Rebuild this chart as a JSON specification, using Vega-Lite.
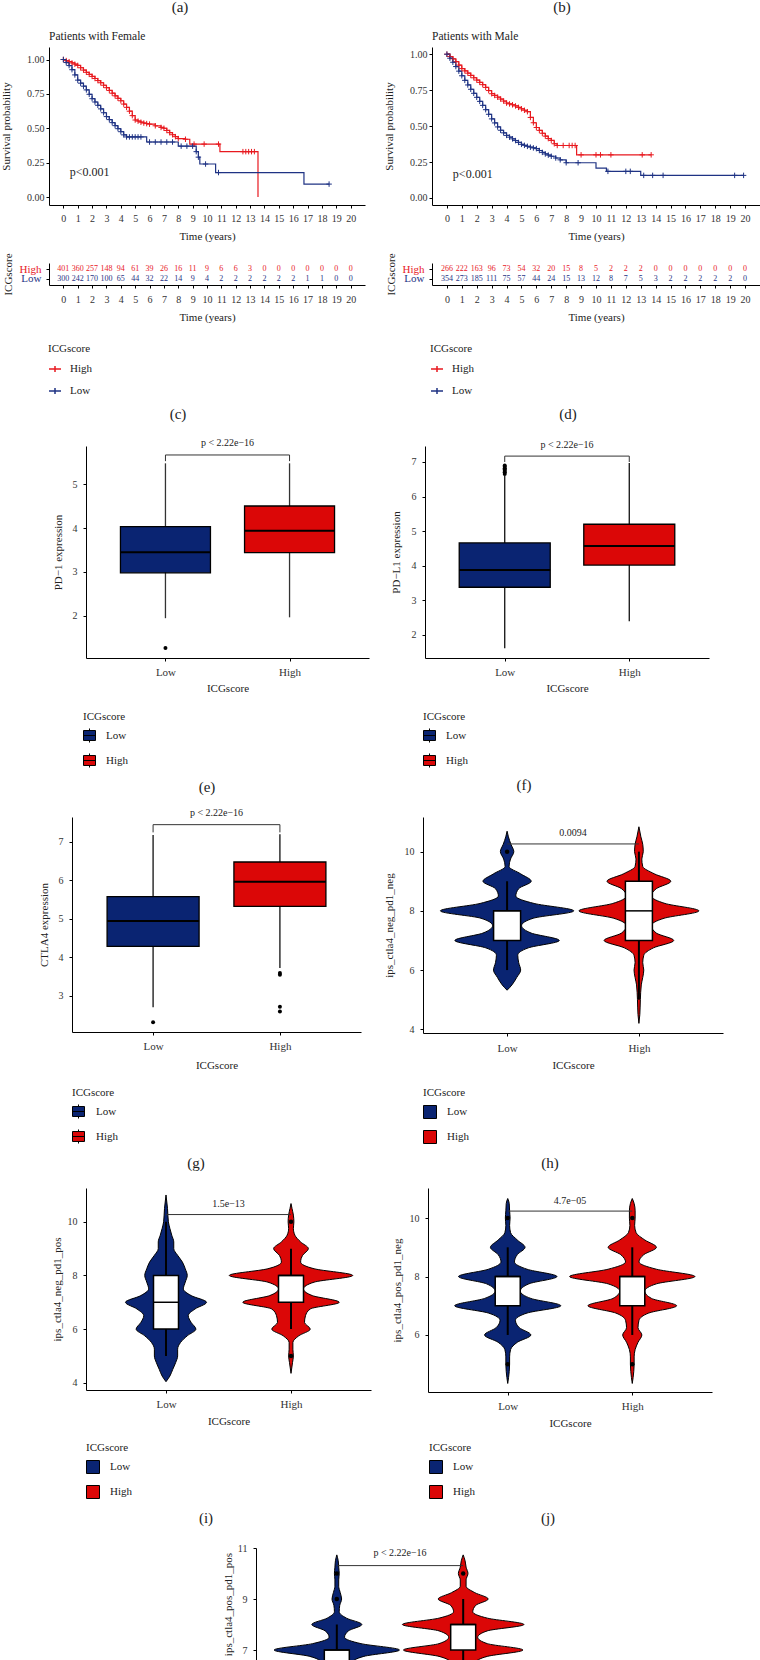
{
"$schema": "https://vega.github.io/schema/vega-lite/v6.json",
"padding": 0,
"spacing": 0,
"bounds": "flush",
"columns": 2,
"resolve": {"scale": {"color": "independent", "x": "independent", "y": "independent"}, "legend": {"color": "independent"}},
"config": {
  "view": {"stroke": null},
  "font": "Liberation Serif",
  "axis": {"domainColor": "black", "domainWidth": 1, "tickColor": "black", "tickSize": 3, "labelColor": "#333", "titleColor": "#222", "labelFont": "Liberation Serif", "titleFont": "Liberation Serif", "titleFontWeight": "normal", "labelFontSize": 10, "titleFontSize": 11, "grid": false},
  "legend": {"titleFont": "Liberation Serif", "labelFont": "Liberation Serif", "titleFontWeight": "normal", "titleFontSize": 11, "labelFontSize": 11, "titleColor": "#222", "labelColor": "#222"},
  "title": {"font": "Liberation Serif", "fontWeight": "normal", "color": "#222"}
},
"concat": [
  {"width": 1, "height": 14, "data": {"values": [{}]}, "mark": {"type": "point", "size": 0, "strokeWidth": 0, "opacity": 0}, "title": {"text": "(a)", "orient": "bottom", "anchor": "start", "align": "center", "dx": 180, "offset": -14, "fontSize": 15}},
  {"width": 1, "height": 14, "data": {"values": [{}]}, "mark": {"type": "point", "size": 0, "strokeWidth": 0, "opacity": 0}, "title": {"text": "(b)", "orient": "bottom", "anchor": "start", "align": "center", "dx": 561, "offset": -14, "fontSize": 15}},

  {"width": 1, "height": 33, "data": {"values": [{}]}, "mark": {"type": "point", "size": 0, "strokeWidth": 0, "opacity": 0}},
  {"width": 1, "height": 1, "data": {"values": [{}]}, "mark": {"type": "point", "size": 0, "strokeWidth": 0, "opacity": 0}},

  {"width": 1, "height": 158,
   "title": {"text": "Patients with Female", "anchor": "start", "frame": "group", "dx": 49, "offset": 5, "fontSize": 11.5},
   "data": {"values": [
    {"g":"High","t":0,"s":1,"c":1},{"g":"High","t":0.2,"s":0.992,"c":1},{"g":"High","t":0.4,"s":0.984,"c":1},{"g":"High","t":0.6,"s":0.975,"c":1},{"g":"High","t":0.8,"s":0.966,"c":1},{"g":"High","t":1,"s":0.957,"c":1},{"g":"High","t":1.2,"s":0.94,"c":1},{"g":"High","t":1.4,"s":0.923,"c":1},{"g":"High","t":1.6,"s":0.907,"c":1},{"g":"High","t":1.8,"s":0.892,"c":1},{"g":"High","t":2,"s":0.877,"c":1},{"g":"High","t":2.2,"s":0.862,"c":1},{"g":"High","t":2.4,"s":0.847,"c":1},{"g":"High","t":2.6,"s":0.831,"c":1},{"g":"High","t":2.8,"s":0.813,"c":1},{"g":"High","t":3,"s":0.795,"c":1},{"g":"High","t":3.2,"s":0.775,"c":1},{"g":"High","t":3.4,"s":0.755,"c":1},{"g":"High","t":3.6,"s":0.736,"c":1},{"g":"High","t":3.8,"s":0.718,"c":1},{"g":"High","t":4,"s":0.7,"c":1},{"g":"High","t":4.2,"s":0.676,"c":1},{"g":"High","t":4.4,"s":0.652,"c":1},{"g":"High","t":4.6,"s":0.624,"c":1},{"g":"High","t":4.8,"s":0.592,"c":1},{"g":"High","t":5,"s":0.56,"c":1},{"g":"High","t":5.2,"s":0.552,"c":1},{"g":"High","t":5.4,"s":0.544,"c":1},{"g":"High","t":5.6,"s":0.538,"c":1},{"g":"High","t":5.8,"s":0.534,"c":1},{"g":"High","t":6,"s":0.53,"c":1},{"g":"High","t":6.4,"s":0.518,"c":1},{"g":"High","t":6.8,"s":0.506,"c":1},{"g":"High","t":7,"s":0.5,"c":1},{"g":"High","t":7.2,"s":0.484,"c":1},{"g":"High","t":7.4,"s":0.468,"c":1},{"g":"High","t":7.6,"s":0.453,"c":1},{"g":"High","t":7.8,"s":0.439,"c":1},{"g":"High","t":8,"s":0.425,"c":1},{"g":"High","t":8.5,"s":0.42,"c":1},{"g":"High","t":8.8,"s":0.385,"c":0},{"g":"High","t":9.1,"s":0.385,"c":1},{"g":"High","t":9.8,"s":0.385,"c":1},{"g":"High","t":10.8,"s":0.385,"c":1},{"g":"High","t":10.9,"s":0.33,"c":0},{"g":"High","t":12.5,"s":0.33,"c":1},{"g":"High","t":12.7,"s":0.33,"c":1},{"g":"High","t":12.9,"s":0.33,"c":1},{"g":"High","t":13.1,"s":0.33,"c":1},{"g":"High","t":13.3,"s":0.33,"c":1},{"g":"High","t":13.55,"s":0,"c":0},
    {"g":"Low","t":0,"s":1,"c":1},{"g":"Low","t":0.2,"s":0.978,"c":1},{"g":"Low","t":0.4,"s":0.956,"c":1},{"g":"Low","t":0.6,"s":0.926,"c":1},{"g":"Low","t":0.8,"s":0.888,"c":1},{"g":"Low","t":1,"s":0.85,"c":1},{"g":"Low","t":1.2,"s":0.828,"c":1},{"g":"Low","t":1.4,"s":0.806,"c":1},{"g":"Low","t":1.6,"s":0.779,"c":1},{"g":"Low","t":1.8,"s":0.747,"c":1},{"g":"Low","t":2,"s":0.715,"c":1},{"g":"Low","t":2.2,"s":0.691,"c":1},{"g":"Low","t":2.4,"s":0.667,"c":1},{"g":"Low","t":2.6,"s":0.641,"c":1},{"g":"Low","t":2.8,"s":0.613,"c":1},{"g":"Low","t":3,"s":0.585,"c":1},{"g":"Low","t":3.2,"s":0.563,"c":1},{"g":"Low","t":3.4,"s":0.541,"c":1},{"g":"Low","t":3.6,"s":0.519,"c":1},{"g":"Low","t":3.8,"s":0.497,"c":1},{"g":"Low","t":4,"s":0.475,"c":1},{"g":"Low","t":4.2,"s":0.452,"c":1},{"g":"Low","t":4.4,"s":0.437,"c":1},{"g":"Low","t":4.6,"s":0.437,"c":1},{"g":"Low","t":4.8,"s":0.437,"c":1},{"g":"Low","t":5,"s":0.437,"c":1},{"g":"Low","t":5.2,"s":0.437,"c":1},{"g":"Low","t":5.4,"s":0.437,"c":1},{"g":"Low","t":5.8,"s":0.4,"c":0},{"g":"Low","t":6,"s":0.4,"c":1},{"g":"Low","t":6.4,"s":0.4,"c":1},{"g":"Low","t":6.8,"s":0.4,"c":1},{"g":"Low","t":7.2,"s":0.4,"c":1},{"g":"Low","t":7.6,"s":0.4,"c":1},{"g":"Low","t":8,"s":0.37,"c":0},{"g":"Low","t":8.2,"s":0.37,"c":1},{"g":"Low","t":8.6,"s":0.37,"c":1},{"g":"Low","t":9,"s":0.37,"c":1},{"g":"Low","t":9.25,"s":0.33,"c":1},{"g":"Low","t":9.4,"s":0.29,"c":1},{"g":"Low","t":9.5,"s":0.24,"c":0},{"g":"Low","t":9.9,"s":0.24,"c":1},{"g":"Low","t":10.6,"s":0.178,"c":0},{"g":"Low","t":10.8,"s":0.178,"c":1},{"g":"Low","t":16.75,"s":0.094,"c":0},{"g":"Low","t":18.5,"s":0.094,"c":1}
   ]},
   "encoding": {
    "x": {"field": "t", "type": "quantitative", "scale": {"domain": [-1, 21], "range": [49, 365], "nice": false, "zero": false}, "axis": {"values": [0,1,2,3,4,5,6,7,8,9,10,11,12,13,14,15,16,17,18,19,20], "title": "Time (years)", "labelFlush": false, "labelOverlap": false, "labelPadding": 5, "titlePadding": 7}},
    "y": {"field": "s", "type": "quantitative", "scale": {"domain": [-0.058, 1.091], "nice": false, "zero": false}, "axis": {"values": [0, 0.25, 0.5, 0.75, 1], "format": ".2f", "title": "Survival probability", "offset": -49, "labelPadding": 2, "titlePadding": 15}},
    "color": {"field": "g", "type": "nominal", "scale": {"domain": ["High", "Low"], "range": ["#E8191F", "#1F3384"]},
      "legend": {"title": "ICGscore", "orient": "none", "legendX": 48, "legendY": 296, "symbolType": "M-1,0L1,0M0,-0.5L0,0.5", "symbolSize": 144, "symbolStrokeWidth": 1.5, "labelOffset": 8, "rowPadding": 9, "titlePadding": 8}}
   },
   "layer": [
    {"mark": {"type": "line", "interpolate": "step-after", "strokeWidth": 1.2}},
    {"transform": [{"filter": "datum.c == 1"}],
     "mark": {"type": "point", "shape": "M-1,0L1,0M0,-1L0,1", "size": 30, "strokeWidth": 1, "filled": false, "opacity": 1}},
    {"data": {"values": [{"t": 0.45, "s": 0.18, "label": "p<0.001"}]},
     "mark": {"type": "text", "align": "left", "fontSize": 12, "font": "Liberation Serif"},
     "encoding": {"color": {"value": "#222"}, "text": {"field": "label", "type": "nominal"}}}
   ]},
  {"width": 1, "height": 158,
   "title": {"text": "Patients with Male", "anchor": "start", "frame": "group", "dx": 431, "offset": 5, "fontSize": 11.5},
   "data": {"values": [
    {"g":"High","t":0,"s":1,"c":1},{"g":"High","t":0.2,"s":0.984,"c":1},{"g":"High","t":0.4,"s":0.968,"c":1},{"g":"High","t":0.6,"s":0.948,"c":1},{"g":"High","t":0.8,"s":0.924,"c":1},{"g":"High","t":1,"s":0.9,"c":1},{"g":"High","t":1.2,"s":0.884,"c":1},{"g":"High","t":1.4,"s":0.868,"c":1},{"g":"High","t":1.6,"s":0.852,"c":1},{"g":"High","t":1.8,"s":0.836,"c":1},{"g":"High","t":2,"s":0.82,"c":1},{"g":"High","t":2.2,"s":0.804,"c":1},{"g":"High","t":2.4,"s":0.788,"c":1},{"g":"High","t":2.6,"s":0.769,"c":1},{"g":"High","t":2.8,"s":0.747,"c":1},{"g":"High","t":3,"s":0.725,"c":1},{"g":"High","t":3.2,"s":0.713,"c":1},{"g":"High","t":3.4,"s":0.701,"c":1},{"g":"High","t":3.6,"s":0.688,"c":1},{"g":"High","t":3.8,"s":0.674,"c":1},{"g":"High","t":4,"s":0.66,"c":1},{"g":"High","t":4.2,"s":0.654,"c":1},{"g":"High","t":4.4,"s":0.648,"c":1},{"g":"High","t":4.6,"s":0.64,"c":1},{"g":"High","t":4.8,"s":0.63,"c":1},{"g":"High","t":5,"s":0.62,"c":1},{"g":"High","t":5.2,"s":0.61,"c":1},{"g":"High","t":5.4,"s":0.6,"c":1},{"g":"High","t":5.6,"s":0.56,"c":1},{"g":"High","t":5.8,"s":0.523,"c":1},{"g":"High","t":6,"s":0.49,"c":1},{"g":"High","t":6.2,"s":0.47,"c":1},{"g":"High","t":6.4,"s":0.45,"c":1},{"g":"High","t":6.6,"s":0.43,"c":1},{"g":"High","t":6.8,"s":0.413,"c":1},{"g":"High","t":7,"s":0.4,"c":1},{"g":"High","t":7.2,"s":0.377,"c":1},{"g":"High","t":7.4,"s":0.365,"c":1},{"g":"High","t":7.8,"s":0.365,"c":1},{"g":"High","t":8.2,"s":0.365,"c":1},{"g":"High","t":8.4,"s":0.365,"c":1},{"g":"High","t":8.6,"s":0.365,"c":1},{"g":"High","t":8.7,"s":0.3,"c":0},{"g":"High","t":9,"s":0.3,"c":1},{"g":"High","t":10,"s":0.3,"c":1},{"g":"High","t":10.3,"s":0.3,"c":1},{"g":"High","t":11,"s":0.3,"c":1},{"g":"High","t":13.1,"s":0.3,"c":1},{"g":"High","t":13.7,"s":0.3,"c":1},
    {"g":"Low","t":0,"s":1,"c":1},{"g":"Low","t":0.2,"s":0.972,"c":1},{"g":"Low","t":0.4,"s":0.944,"c":1},{"g":"Low","t":0.6,"s":0.914,"c":1},{"g":"Low","t":0.8,"s":0.882,"c":1},{"g":"Low","t":1,"s":0.85,"c":1},{"g":"Low","t":1.2,"s":0.818,"c":1},{"g":"Low","t":1.4,"s":0.786,"c":1},{"g":"Low","t":1.6,"s":0.756,"c":1},{"g":"Low","t":1.8,"s":0.728,"c":1},{"g":"Low","t":2,"s":0.7,"c":1},{"g":"Low","t":2.2,"s":0.672,"c":1},{"g":"Low","t":2.4,"s":0.644,"c":1},{"g":"Low","t":2.6,"s":0.614,"c":1},{"g":"Low","t":2.8,"s":0.582,"c":1},{"g":"Low","t":3,"s":0.55,"c":1},{"g":"Low","t":3.2,"s":0.522,"c":1},{"g":"Low","t":3.4,"s":0.494,"c":1},{"g":"Low","t":3.6,"s":0.471,"c":1},{"g":"Low","t":3.8,"s":0.453,"c":1},{"g":"Low","t":4,"s":0.435,"c":1},{"g":"Low","t":4.2,"s":0.423,"c":1},{"g":"Low","t":4.4,"s":0.411,"c":1},{"g":"Low","t":4.6,"s":0.399,"c":1},{"g":"Low","t":4.8,"s":0.386,"c":1},{"g":"Low","t":5,"s":0.373,"c":1},{"g":"Low","t":5.2,"s":0.366,"c":1},{"g":"Low","t":5.4,"s":0.359,"c":1},{"g":"Low","t":5.6,"s":0.353,"c":1},{"g":"Low","t":5.8,"s":0.348,"c":1},{"g":"Low","t":6,"s":0.343,"c":1},{"g":"Low","t":6.2,"s":0.33,"c":1},{"g":"Low","t":6.4,"s":0.317,"c":1},{"g":"Low","t":6.6,"s":0.306,"c":1},{"g":"Low","t":6.8,"s":0.298,"c":1},{"g":"Low","t":7,"s":0.29,"c":1},{"g":"Low","t":7.3,"s":0.278,"c":1},{"g":"Low","t":7.6,"s":0.265,"c":1},{"g":"Low","t":8,"s":0.245,"c":1},{"g":"Low","t":8.8,"s":0.245,"c":1},{"g":"Low","t":10,"s":0.208,"c":0},{"g":"Low","t":10.7,"s":0.185,"c":0},{"g":"Low","t":10.8,"s":0.185,"c":1},{"g":"Low","t":12,"s":0.185,"c":1},{"g":"Low","t":12.3,"s":0.185,"c":1},{"g":"Low","t":13,"s":0.157,"c":0},{"g":"Low","t":13.2,"s":0.157,"c":1},{"g":"Low","t":13.8,"s":0.157,"c":1},{"g":"Low","t":14.5,"s":0.157,"c":1},{"g":"Low","t":19.3,"s":0.157,"c":1},{"g":"Low","t":19.9,"s":0.157,"c":1}
   ]},
   "encoding": {
    "x": {"field": "t", "type": "quantitative", "scale": {"domain": [-1, 21], "range": [431, 759], "nice": false, "zero": false}, "axis": {"values": [0,1,2,3,4,5,6,7,8,9,10,11,12,13,14,15,16,17,18,19,20], "title": "Time (years)", "labelFlush": false, "labelOverlap": false, "labelPadding": 5, "titlePadding": 7}},
    "y": {"field": "s", "type": "quantitative", "scale": {"domain": [-0.049, 1.05], "nice": false, "zero": false}, "axis": {"values": [0, 0.25, 0.5, 0.75, 1], "format": ".2f", "title": "Survival probability", "offset": -431, "labelPadding": 2, "titlePadding": 15}},
    "color": {"field": "g", "type": "nominal", "scale": {"domain": ["High", "Low"], "range": ["#E8191F", "#1F3384"]},
      "legend": {"title": "ICGscore", "orient": "none", "legendX": 429, "legendY": 296, "symbolType": "M-1,0L1,0M0,-0.5L0,0.5", "symbolSize": 144, "symbolStrokeWidth": 1.5, "labelOffset": 8, "rowPadding": 9, "titlePadding": 8}}
   },
   "layer": [
    {"mark": {"type": "line", "interpolate": "step-after", "strokeWidth": 1.2}},
    {"transform": [{"filter": "datum.c == 1"}],
     "mark": {"type": "point", "shape": "M-1,0L1,0M0,-1L0,1", "size": 30, "strokeWidth": 1, "filled": false, "opacity": 1}},
    {"data": {"values": [{"t": 0.4, "s": 0.17, "label": "p<0.001"}]},
     "mark": {"type": "text", "align": "left", "fontSize": 12, "font": "Liberation Serif"},
     "encoding": {"color": {"value": "#222"}, "text": {"field": "label", "type": "nominal"}}}
   ]},

  {"width": 1, "height": 58, "data": {"values": [{}]}, "mark": {"type": "point", "size": 0, "strokeWidth": 0, "opacity": 0}},
  {"width": 1, "height": 1, "data": {"values": [{}]}, "mark": {"type": "point", "size": 0, "strokeWidth": 0, "opacity": 0}},

  {"width": 1, "height": 22,
   "data": {"values": [
    {"g":"High","t":0,"n":401},{"g":"High","t":1,"n":360},{"g":"High","t":2,"n":257},{"g":"High","t":3,"n":148},{"g":"High","t":4,"n":94},{"g":"High","t":5,"n":61},{"g":"High","t":6,"n":39},{"g":"High","t":7,"n":26},{"g":"High","t":8,"n":16},{"g":"High","t":9,"n":11},{"g":"High","t":10,"n":9},{"g":"High","t":11,"n":6},{"g":"High","t":12,"n":6},{"g":"High","t":13,"n":3},{"g":"High","t":14,"n":0},{"g":"High","t":15,"n":0},{"g":"High","t":16,"n":0},{"g":"High","t":17,"n":0},{"g":"High","t":18,"n":0},{"g":"High","t":19,"n":0},{"g":"High","t":20,"n":0},
    {"g":"Low","t":0,"n":300},{"g":"Low","t":1,"n":242},{"g":"Low","t":2,"n":170},{"g":"Low","t":3,"n":100},{"g":"Low","t":4,"n":65},{"g":"Low","t":5,"n":44},{"g":"Low","t":6,"n":32},{"g":"Low","t":7,"n":22},{"g":"Low","t":8,"n":14},{"g":"Low","t":9,"n":9},{"g":"Low","t":10,"n":4},{"g":"Low","t":11,"n":2},{"g":"Low","t":12,"n":2},{"g":"Low","t":13,"n":2},{"g":"Low","t":14,"n":2},{"g":"Low","t":15,"n":2},{"g":"Low","t":16,"n":2},{"g":"Low","t":17,"n":1},{"g":"Low","t":18,"n":1},{"g":"Low","t":19,"n":0},{"g":"Low","t":20,"n":0}
   ]},
   "mark": {"type": "text", "fontSize": 8, "font": "Liberation Serif"},
   "encoding": {
    "x": {"field": "t", "type": "quantitative", "scale": {"domain": [-1, 21], "range": [49, 365], "nice": false, "zero": false}, "axis": {"values": [0,1,2,3,4,5,6,7,8,9,10,11,12,13,14,15,16,17,18,19,20], "title": "Time (years)", "labelFlush": false, "labelOverlap": false, "labelPadding": 6, "titlePadding": 7}},
    "y": {"field": "g", "type": "nominal", "scale": {"type": "point", "domain": ["High", "Low"], "padding": 0.72}, "axis": {"title": "ICGscore", "offset": -49, "labelFontSize": 11, "labelPadding": 5, "titlePadding": 6, "labelColor": {"condition": {"test": "datum.value == 'High'", "value": "#E8191F"}, "value": "#1F3384"}}},
    "text": {"field": "n", "type": "quantitative"},
    "color": {"field": "g", "type": "nominal", "scale": {"domain": ["High", "Low"], "range": ["#E8191F", "#1F3384"]}, "legend": null}
   }},
  {"width": 1, "height": 22,
   "data": {"values": [
    {"g":"High","t":0,"n":266},{"g":"High","t":1,"n":222},{"g":"High","t":2,"n":163},{"g":"High","t":3,"n":96},{"g":"High","t":4,"n":73},{"g":"High","t":5,"n":54},{"g":"High","t":6,"n":32},{"g":"High","t":7,"n":20},{"g":"High","t":8,"n":15},{"g":"High","t":9,"n":8},{"g":"High","t":10,"n":5},{"g":"High","t":11,"n":2},{"g":"High","t":12,"n":2},{"g":"High","t":13,"n":2},{"g":"High","t":14,"n":0},{"g":"High","t":15,"n":0},{"g":"High","t":16,"n":0},{"g":"High","t":17,"n":0},{"g":"High","t":18,"n":0},{"g":"High","t":19,"n":0},{"g":"High","t":20,"n":0},
    {"g":"Low","t":0,"n":354},{"g":"Low","t":1,"n":273},{"g":"Low","t":2,"n":185},{"g":"Low","t":3,"n":111},{"g":"Low","t":4,"n":75},{"g":"Low","t":5,"n":57},{"g":"Low","t":6,"n":44},{"g":"Low","t":7,"n":24},{"g":"Low","t":8,"n":15},{"g":"Low","t":9,"n":13},{"g":"Low","t":10,"n":12},{"g":"Low","t":11,"n":8},{"g":"Low","t":12,"n":7},{"g":"Low","t":13,"n":5},{"g":"Low","t":14,"n":3},{"g":"Low","t":15,"n":2},{"g":"Low","t":16,"n":2},{"g":"Low","t":17,"n":2},{"g":"Low","t":18,"n":2},{"g":"Low","t":19,"n":2},{"g":"Low","t":20,"n":0}
   ]},
   "mark": {"type": "text", "fontSize": 8, "font": "Liberation Serif"},
   "encoding": {
    "x": {"field": "t", "type": "quantitative", "scale": {"domain": [-1, 21], "range": [431, 759], "nice": false, "zero": false}, "axis": {"values": [0,1,2,3,4,5,6,7,8,9,10,11,12,13,14,15,16,17,18,19,20], "title": "Time (years)", "labelFlush": false, "labelOverlap": false, "labelPadding": 6, "titlePadding": 7}},
    "y": {"field": "g", "type": "nominal", "scale": {"type": "point", "domain": ["High", "Low"], "padding": 0.72}, "axis": {"title": "ICGscore", "offset": -431, "labelFontSize": 11, "labelPadding": 5, "titlePadding": 6, "labelColor": {"condition": {"test": "datum.value == 'High'", "value": "#E8191F"}, "value": "#1F3384"}}},
    "text": {"field": "n", "type": "quantitative"},
    "color": {"field": "g", "type": "nominal", "scale": {"domain": ["High", "Low"], "range": ["#E8191F", "#1F3384"]}, "legend": null}
   }},

  {"width": 1, "height": 122, "data": {"values": [{}]}, "mark": {"type": "point", "size": 0, "strokeWidth": 0, "opacity": 0}},
  {"width": 1, "height": 1, "data": {"values": [{}]}, "mark": {"type": "point", "size": 0, "strokeWidth": 0, "opacity": 0}},

  {"width": 1, "height": 15, "data": {"values": [{}]}, "mark": {"type": "point", "size": 0, "strokeWidth": 0, "opacity": 0}, "title": {"text": "(c)", "orient": "bottom", "anchor": "start", "align": "center", "dx": 178, "offset": -15, "fontSize": 15}},
  {"width": 1, "height": 15, "data": {"values": [{}]}, "mark": {"type": "point", "size": 0, "strokeWidth": 0, "opacity": 0}, "title": {"text": "(d)", "orient": "bottom", "anchor": "start", "align": "center", "dx": 567, "offset": -15, "fontSize": 15}},

  {"width": 1, "height": 24, "data": {"values": [{}]}, "mark": {"type": "point", "size": 0, "strokeWidth": 0, "opacity": 0}},
  {"width": 1, "height": 1, "data": {"values": [{}]}, "mark": {"type": "point", "size": 0, "strokeWidth": 0, "opacity": 0}},

  {"width": 1, "height": 212,
   "data": {"values": [{"g":"Low","pos":1,"q1":2.98,"med":3.45,"q3":4.03,"lo":1.95,"hi":5.47},{"g":"High","pos":2,"q1":3.44,"med":3.94,"q3":4.5,"lo":1.97,"hi":5.47}]},
   "layer": [
    {"mark": {"type": "rule", "color": "#333", "strokeWidth": 1.3},
     "encoding": {
      "x": {"field": "pos", "type": "quantitative", "scale": {"domain": [0.4, 2.6], "range": [86, 369], "nice": false, "zero": false}, "axis": {"values": [1, 2], "labelExpr": "datum.value == 1 ? 'Low' : 'High'", "title": "ICGscore", "labelFontSize": 11, "labelPadding": 5, "titlePadding": 5, "labelFlush": false}},
      "y": {"field": "lo", "type": "quantitative", "scale": {"domain": [1.045, 5.864], "nice": false, "zero": false}, "axis": {"values": [2, 3, 4, 5], "title": "PD−1 expression", "offset": -86, "labelPadding": 6, "titlePadding": 9}},
      "y2": {"field": "hi"}}},
    {"mark": {"type": "bar", "size": 90, "stroke": "black", "strokeWidth": 1.3, "opacity": 1},
     "encoding": {
      "x": {"field": "pos", "type": "quantitative", "scale": {"domain": [0.4, 2.6], "range": [86, 369], "nice": false, "zero": false}},
      "y": {"field": "q1", "type": "quantitative", "scale": {"domain": [1.045, 5.864], "nice": false, "zero": false}},
      "y2": {"field": "q3"},
      "color": {"field": "g", "type": "nominal", "scale": {"domain": ["Low", "High"], "range": ["#0A2472", "#DB0707"]},
        "legend": {"title": "ICGscore", "orient": "none", "legendX": 83, "legendY": 265, "symbolType": "M-1,-0.83H1V0.83H-1Z M-1,0H1 M0,-0.83V-1.17 M0,0.83V1.17", "symbolSize": 144, "symbolStrokeColor": "black", "symbolStrokeWidth": 1, "symbolOpacity": 1, "labelOffset": 10, "rowPadding": 6, "titlePadding": 7}}}},
    {"mark": {"type": "tick", "orient": "horizontal", "size": 90, "thickness": 2, "color": "black", "opacity": 1},
     "encoding": {
      "x": {"field": "pos", "type": "quantitative", "scale": {"domain": [0.4, 2.6], "range": [86, 369], "nice": false, "zero": false}},
      "y": {"field": "med", "type": "quantitative", "scale": {"domain": [1.045, 5.864], "nice": false, "zero": false}}}},
    {"data": {"values": [{"pos": 1, "v": 1.27}]},
     "mark": {"type": "circle", "size": 16, "color": "black", "opacity": 1},
     "encoding": {
      "x": {"field": "pos", "type": "quantitative", "scale": {"domain": [0.4, 2.6], "range": [86, 369], "nice": false, "zero": false}},
      "y": {"field": "v", "type": "quantitative", "scale": {"domain": [1.045, 5.864], "nice": false, "zero": false}}}},
    {"data": {"values": [{"x1": 1, "x2": 2, "xm": 1.5, "y": 5.66, "yl": 5.52, "ty": 5.93, "label": "p < 2.22e−16"}]},
     "layer": [
      {"mark": {"type": "rule", "color": "#333", "strokeWidth": 1},
       "encoding": {"x": {"field": "x1", "type": "quantitative", "scale": {"domain": [0.4, 2.6], "range": [86, 369], "nice": false, "zero": false}}, "x2": {"field": "x2"}, "y": {"field": "y", "type": "quantitative", "scale": {"domain": [1.045, 5.864], "nice": false, "zero": false}}}},
      {"mark": {"type": "rule", "color": "#333", "strokeWidth": 1},
       "encoding": {"x": {"field": "x1", "type": "quantitative", "scale": {"domain": [0.4, 2.6], "range": [86, 369], "nice": false, "zero": false}}, "y": {"field": "y", "type": "quantitative", "scale": {"domain": [1.045, 5.864], "nice": false, "zero": false}}, "y2": {"field": "yl"}}},
      {"mark": {"type": "rule", "color": "#333", "strokeWidth": 1},
       "encoding": {"x": {"field": "x2", "type": "quantitative", "scale": {"domain": [0.4, 2.6], "range": [86, 369], "nice": false, "zero": false}}, "y": {"field": "y", "type": "quantitative", "scale": {"domain": [1.045, 5.864], "nice": false, "zero": false}}, "y2": {"field": "yl"}}},
      {"mark": {"type": "text", "fontSize": 10, "font": "Liberation Serif", "color": "#222"},
       "encoding": {"x": {"field": "xm", "type": "quantitative", "scale": {"domain": [0.4, 2.6], "range": [86, 369], "nice": false, "zero": false}}, "y": {"field": "ty", "type": "quantitative", "scale": {"domain": [1.045, 5.864], "nice": false, "zero": false}}, "text": {"field": "label", "type": "nominal"}}}
     ]}
   ]},
  {"width": 1, "height": 212,
   "data": {"values": [{"g":"Low","pos":1,"q1":3.38,"med":3.88,"q3":4.66,"lo":1.62,"hi":6.6},{"g":"High","pos":2,"q1":4.02,"med":4.57,"q3":5.2,"lo":2.4,"hi":6.97}]},
   "layer": [
    {"mark": {"type": "rule", "color": "#111", "strokeWidth": 1.3},
     "encoding": {
      "x": {"field": "pos", "type": "quantitative", "scale": {"domain": [0.4, 2.6], "range": [424, 708], "nice": false, "zero": false}, "axis": {"values": [1, 2], "labelExpr": "datum.value == 1 ? 'Low' : 'High'", "title": "ICGscore", "labelFontSize": 11, "labelPadding": 5, "titlePadding": 5, "labelFlush": false}},
      "y": {"field": "lo", "type": "quantitative", "scale": {"domain": [1.335, 7.462], "nice": false, "zero": false}, "axis": {"values": [2, 3, 4, 5, 6, 7], "title": "PD−L1 expression", "offset": -424, "labelPadding": 6, "titlePadding": 10}},
      "y2": {"field": "hi"}}},
    {"mark": {"type": "bar", "size": 91, "stroke": "black", "strokeWidth": 1.3, "opacity": 1},
     "encoding": {
      "x": {"field": "pos", "type": "quantitative", "scale": {"domain": [0.4, 2.6], "range": [424, 708], "nice": false, "zero": false}},
      "y": {"field": "q1", "type": "quantitative", "scale": {"domain": [1.335, 7.462], "nice": false, "zero": false}},
      "y2": {"field": "q3"},
      "color": {"field": "g", "type": "nominal", "scale": {"domain": ["Low", "High"], "range": ["#0A2472", "#DB0707"]},
        "legend": {"title": "ICGscore", "orient": "none", "legendX": 422, "legendY": 265, "symbolType": "M-1,-0.83H1V0.83H-1Z M-1,0H1 M0,-0.83V-1.17 M0,0.83V1.17", "symbolSize": 144, "symbolStrokeColor": "black", "symbolStrokeWidth": 1, "symbolOpacity": 1, "labelOffset": 10, "rowPadding": 6, "titlePadding": 7}}}},
    {"mark": {"type": "tick", "orient": "horizontal", "size": 91, "thickness": 2, "color": "black", "opacity": 1},
     "encoding": {
      "x": {"field": "pos", "type": "quantitative", "scale": {"domain": [0.4, 2.6], "range": [424, 708], "nice": false, "zero": false}},
      "y": {"field": "med", "type": "quantitative", "scale": {"domain": [1.335, 7.462], "nice": false, "zero": false}}}},
    {"data": {"values": [{"pos": 1, "v": 6.65}, {"pos": 1, "v": 6.7}, {"pos": 1, "v": 6.74}, {"pos": 1, "v": 6.78}, {"pos": 1, "v": 6.82}, {"pos": 1, "v": 6.86}, {"pos": 1, "v": 6.9}]},
     "mark": {"type": "circle", "size": 16, "color": "black", "opacity": 1},
     "encoding": {
      "x": {"field": "pos", "type": "quantitative", "scale": {"domain": [0.4, 2.6], "range": [424, 708], "nice": false, "zero": false}},
      "y": {"field": "v", "type": "quantitative", "scale": {"domain": [1.335, 7.462], "nice": false, "zero": false}}}},
    {"data": {"values": [{"x1": 1, "x2": 2, "xm": 1.5, "y": 7.17, "yl": 7.0, "ty": 7.49, "label": "p < 2.22e−16"}]},
     "layer": [
      {"mark": {"type": "rule", "color": "#333", "strokeWidth": 1},
       "encoding": {"x": {"field": "x1", "type": "quantitative", "scale": {"domain": [0.4, 2.6], "range": [424, 708], "nice": false, "zero": false}}, "x2": {"field": "x2"}, "y": {"field": "y", "type": "quantitative", "scale": {"domain": [1.335, 7.462], "nice": false, "zero": false}}}},
      {"mark": {"type": "rule", "color": "#333", "strokeWidth": 1},
       "encoding": {"x": {"field": "x1", "type": "quantitative", "scale": {"domain": [0.4, 2.6], "range": [424, 708], "nice": false, "zero": false}}, "y": {"field": "y", "type": "quantitative", "scale": {"domain": [1.335, 7.462], "nice": false, "zero": false}}, "y2": {"field": "yl"}}},
      {"mark": {"type": "rule", "color": "#333", "strokeWidth": 1},
       "encoding": {"x": {"field": "x2", "type": "quantitative", "scale": {"domain": [0.4, 2.6], "range": [424, 708], "nice": false, "zero": false}}, "y": {"field": "y", "type": "quantitative", "scale": {"domain": [1.335, 7.462], "nice": false, "zero": false}}, "y2": {"field": "yl"}}},
      {"mark": {"type": "text", "fontSize": 10, "font": "Liberation Serif", "color": "#222"},
       "encoding": {"x": {"field": "xm", "type": "quantitative", "scale": {"domain": [0.4, 2.6], "range": [424, 708], "nice": false, "zero": false}}, "y": {"field": "ty", "type": "quantitative", "scale": {"domain": [1.335, 7.462], "nice": false, "zero": false}}, "text": {"field": "label", "type": "nominal"}}}
     ]}
   ]},

  {"width": 1, "height": 122, "data": {"values": [{}]}, "mark": {"type": "point", "size": 0, "strokeWidth": 0, "opacity": 0}},
  {"width": 1, "height": 1, "data": {"values": [{}]}, "mark": {"type": "point", "size": 0, "strokeWidth": 0, "opacity": 0}},

  {"width": 1, "height": 15, "data": {"values": [{}]}, "mark": {"type": "point", "size": 0, "strokeWidth": 0, "opacity": 0}, "title": {"text": "(e)", "orient": "bottom", "anchor": "start", "align": "center", "dx": 207, "offset": -15, "fontSize": 15}},
  {"width": 1, "height": 15, "data": {"values": [{}]}, "mark": {"type": "point", "size": 0, "strokeWidth": 0, "opacity": 0}, "title": {"text": "(f)", "orient": "bottom", "anchor": "start", "align": "center", "dx": 523, "offset": -17, "fontSize": 15}},

  {"width": 1, "height": 22, "data": {"values": [{}]}, "mark": {"type": "point", "size": 0, "strokeWidth": 0, "opacity": 0}},
  {"width": 1, "height": 1, "data": {"values": [{}]}, "mark": {"type": "point", "size": 0, "strokeWidth": 0, "opacity": 0}},

  {"width": 1, "height": 215,
   "data": {"values": [{"g":"Low","pos":1,"q1":4.29,"med":4.95,"q3":5.58,"lo":2.71,"hi":7.18},{"g":"High","pos":2,"q1":5.33,"med":5.97,"q3":6.48,"lo":3.73,"hi":7.2}]},
   "layer": [
    {"mark": {"type": "rule", "color": "#111", "strokeWidth": 1.3},
     "encoding": {
      "x": {"field": "pos", "type": "quantitative", "scale": {"domain": [0.4, 2.6], "range": [72, 361], "nice": false, "zero": false}, "axis": {"values": [1, 2], "labelExpr": "datum.value == 1 ? 'Low' : 'High'", "title": "ICGscore", "labelFontSize": 11, "labelPadding": 5, "titlePadding": 8, "labelFlush": false}},
      "y": {"field": "lo", "type": "quantitative", "scale": {"domain": [2.065, 7.649], "nice": false, "zero": false}, "axis": {"values": [3, 4, 5, 6, 7], "title": "CTLA4 expression", "offset": -72, "labelPadding": 6, "titlePadding": 9}},
      "y2": {"field": "hi"}}},
    {"mark": {"type": "bar", "size": 92, "stroke": "black", "strokeWidth": 1.3, "opacity": 1},
     "encoding": {
      "x": {"field": "pos", "type": "quantitative", "scale": {"domain": [0.4, 2.6], "range": [72, 361], "nice": false, "zero": false}},
      "y": {"field": "q1", "type": "quantitative", "scale": {"domain": [2.065, 7.649], "nice": false, "zero": false}},
      "y2": {"field": "q3"},
      "color": {"field": "g", "type": "nominal", "scale": {"domain": ["Low", "High"], "range": ["#0A2472", "#DB0707"]},
        "legend": {"title": "ICGscore", "orient": "none", "legendX": 72, "legendY": 270, "symbolType": "M-1,-0.83H1V0.83H-1Z M-1,0H1 M0,-0.83V-1.17 M0,0.83V1.17", "symbolSize": 144, "symbolStrokeColor": "black", "symbolStrokeWidth": 1, "symbolOpacity": 1, "labelOffset": 11, "rowPadding": 6, "titlePadding": 7}}}},
    {"mark": {"type": "tick", "orient": "horizontal", "size": 92, "thickness": 2, "color": "black", "opacity": 1},
     "encoding": {
      "x": {"field": "pos", "type": "quantitative", "scale": {"domain": [0.4, 2.6], "range": [72, 361], "nice": false, "zero": false}},
      "y": {"field": "med", "type": "quantitative", "scale": {"domain": [2.065, 7.649], "nice": false, "zero": false}}}},
    {"data": {"values": [{"pos": 1, "v": 2.32}, {"pos": 2, "v": 3.55}, {"pos": 2, "v": 3.6}, {"pos": 2, "v": 2.72}, {"pos": 2, "v": 2.6}]},
     "mark": {"type": "circle", "size": 16, "color": "black", "opacity": 1},
     "encoding": {
      "x": {"field": "pos", "type": "quantitative", "scale": {"domain": [0.4, 2.6], "range": [72, 361], "nice": false, "zero": false}},
      "y": {"field": "v", "type": "quantitative", "scale": {"domain": [2.065, 7.649], "nice": false, "zero": false}}}},
    {"data": {"values": [{"x1": 1, "x2": 2, "xm": 1.5, "y": 7.45, "yl": 7.25, "ty": 7.76, "label": "p < 2.22e−16"}]},
     "layer": [
      {"mark": {"type": "rule", "color": "#333", "strokeWidth": 1},
       "encoding": {"x": {"field": "x1", "type": "quantitative", "scale": {"domain": [0.4, 2.6], "range": [72, 361], "nice": false, "zero": false}}, "x2": {"field": "x2"}, "y": {"field": "y", "type": "quantitative", "scale": {"domain": [2.065, 7.649], "nice": false, "zero": false}}}},
      {"mark": {"type": "rule", "color": "#333", "strokeWidth": 1},
       "encoding": {"x": {"field": "x1", "type": "quantitative", "scale": {"domain": [0.4, 2.6], "range": [72, 361], "nice": false, "zero": false}}, "y": {"field": "y", "type": "quantitative", "scale": {"domain": [2.065, 7.649], "nice": false, "zero": false}}, "y2": {"field": "yl"}}},
      {"mark": {"type": "rule", "color": "#333", "strokeWidth": 1},
       "encoding": {"x": {"field": "x2", "type": "quantitative", "scale": {"domain": [0.4, 2.6], "range": [72, 361], "nice": false, "zero": false}}, "y": {"field": "y", "type": "quantitative", "scale": {"domain": [2.065, 7.649], "nice": false, "zero": false}}, "y2": {"field": "yl"}}},
      {"mark": {"type": "text", "fontSize": 10, "font": "Liberation Serif", "color": "#222"},
       "encoding": {"x": {"field": "xm", "type": "quantitative", "scale": {"domain": [0.4, 2.6], "range": [72, 361], "nice": false, "zero": false}}, "y": {"field": "ty", "type": "quantitative", "scale": {"domain": [2.065, 7.649], "nice": false, "zero": false}}, "text": {"field": "label", "type": "nominal"}}}
     ]}
   ]},
  {"width": 1, "height": 216,
   "layer": [
    {"data": {"values": [
      {"g":"Low","v":10.69,"left":1,"right":1},{"g":"Low","v":10.5,"left":0.99,"right":1.01},{"g":"Low","v":10.25,"left":0.971,"right":1.029},{"g":"Low","v":10,"left":0.949,"right":1.051},{"g":"Low","v":9.75,"left":0.974,"right":1.026},{"g":"Low","v":9.5,"left":0.985,"right":1.015},{"g":"Low","v":9.25,"left":0.897,"right":1.103},{"g":"Low","v":9,"left":0.817,"right":1.183},{"g":"Low","v":8.75,"left":0.912,"right":1.088},{"g":"Low","v":8.5,"left":0.934,"right":1.066},{"g":"Low","v":8.25,"left":0.795,"right":1.205},{"g":"Low","v":8,"left":0.494,"right":1.506},{"g":"Low","v":7.75,"left":0.802,"right":1.198},{"g":"Low","v":7.5,"left":0.89,"right":1.11},{"g":"Low","v":7.25,"left":0.817,"right":1.183},{"g":"Low","v":7,"left":0.604,"right":1.396},{"g":"Low","v":6.75,"left":0.839,"right":1.161},{"g":"Low","v":6.5,"left":0.919,"right":1.081},{"g":"Low","v":6.25,"left":0.912,"right":1.088},{"g":"Low","v":6,"left":0.897,"right":1.103},{"g":"Low","v":5.75,"left":0.927,"right":1.073},{"g":"Low","v":5.5,"left":0.963,"right":1.037},{"g":"Low","v":5.32,"left":1,"right":1},
      {"g":"High","v":10.84,"left":2,"right":2},{"g":"High","v":10.5,"left":1.985,"right":2.015},{"g":"High","v":10.25,"left":1.971,"right":2.029},{"g":"High","v":10,"left":1.967,"right":2.033},{"g":"High","v":9.75,"left":1.978,"right":2.022},{"g":"High","v":9.5,"left":1.971,"right":2.029},{"g":"High","v":9.25,"left":1.883,"right":2.117},{"g":"High","v":9,"left":1.758,"right":2.242},{"g":"High","v":8.75,"left":1.868,"right":2.132},{"g":"High","v":8.5,"left":1.905,"right":2.095},{"g":"High","v":8.25,"left":1.802,"right":2.198},{"g":"High","v":8,"left":1.545,"right":2.455},{"g":"High","v":7.75,"left":1.809,"right":2.191},{"g":"High","v":7.5,"left":1.905,"right":2.095},{"g":"High","v":7.25,"left":1.868,"right":2.132},{"g":"High","v":7,"left":1.736,"right":2.264},{"g":"High","v":6.75,"left":1.89,"right":2.11},{"g":"High","v":6.5,"left":1.963,"right":2.037},{"g":"High","v":6.25,"left":1.971,"right":2.029},{"g":"High","v":6,"left":1.963,"right":2.037},{"g":"High","v":5.75,"left":1.971,"right":2.029},{"g":"High","v":5.5,"left":1.982,"right":2.018},{"g":"High","v":5,"left":1.989,"right":2.011},{"g":"High","v":4.5,"left":1.993,"right":2.007},{"g":"High","v":4.2,"left":2,"right":2}
     ]},
     "mark": {"type": "area", "orient": "horizontal", "interpolate": "monotone", "stroke": "black", "strokeWidth": 1, "opacity": 1},
     "encoding": {
      "y": {"field": "v", "type": "quantitative", "scale": {"domain": [3.875, 11.17], "nice": false, "zero": false}, "axis": {"values": [4, 6, 8, 10], "title": "ips_ctla4_neg_pd1_neg", "offset": -422, "labelPadding": 6, "titlePadding": 10}},
      "x": {"field": "left", "type": "quantitative", "stack": null, "scale": {"domain": [0.4, 2.6], "range": [422, 722], "nice": false, "zero": false}, "axis": {"values": [1, 2], "labelExpr": "datum.value == 1 ? 'Low' : 'High'", "title": "ICGscore", "labelFontSize": 11, "labelPadding": 6, "titlePadding": 6, "labelFlush": false}},
      "x2": {"field": "right"},
      "color": {"field": "g", "type": "nominal", "scale": {"domain": ["Low", "High"], "range": ["#0A2472", "#DB0707"]},
        "legend": {"title": "ICGscore", "orient": "none", "legendX": 422, "legendY": 270, "symbolType": "square", "symbolSize": 169, "symbolStrokeColor": "black", "symbolStrokeWidth": 1, "symbolOpacity": 1, "labelOffset": 10, "rowPadding": 7, "titlePadding": 7}}
     }},
    {"data": {"values": [{"g":"Low","pos":1,"q1":7,"med":8,"q3":8,"lo":6,"hi":9},{"g":"High","pos":2,"q1":7,"med":8,"q3":9,"lo":5,"hi":10}]},
     "layer": [
      {"mark": {"type": "rule", "color": "black", "strokeWidth": 2},
       "encoding": {"x": {"field": "pos", "type": "quantitative", "scale": {"domain": [0.4, 2.6], "range": [422, 722], "nice": false, "zero": false}}, "y": {"field": "lo", "type": "quantitative", "scale": {"domain": [3.875, 11.17], "nice": false, "zero": false}}, "y2": {"field": "hi"}}},
      {"mark": {"type": "bar", "size": 27, "color": "white", "stroke": "black", "strokeWidth": 1.5, "opacity": 1},
       "encoding": {"x": {"field": "pos", "type": "quantitative", "scale": {"domain": [0.4, 2.6], "range": [422, 722], "nice": false, "zero": false}}, "y": {"field": "q1", "type": "quantitative", "scale": {"domain": [3.875, 11.17], "nice": false, "zero": false}}, "y2": {"field": "q3"}}},
      {"mark": {"type": "tick", "orient": "horizontal", "size": 27, "thickness": 1.5, "color": "black", "opacity": 1},
       "encoding": {"x": {"field": "pos", "type": "quantitative", "scale": {"domain": [0.4, 2.6], "range": [422, 722], "nice": false, "zero": false}}, "y": {"field": "med", "type": "quantitative", "scale": {"domain": [3.875, 11.17], "nice": false, "zero": false}}}}
     ]},
    {"data": {"values": [{"pos": 1, "v": 10}]},
     "mark": {"type": "circle", "size": 20, "color": "black", "opacity": 1},
     "encoding": {"x": {"field": "pos", "type": "quantitative", "scale": {"domain": [0.4, 2.6], "range": [422, 722], "nice": false, "zero": false}}, "y": {"field": "v", "type": "quantitative", "scale": {"domain": [3.875, 11.17], "nice": false, "zero": false}}}},
    {"data": {"values": [{"x1": 1, "x2": 2, "xm": 1.5, "y": 10.26, "ty": 10.63, "label": "0.0094"}]},
     "layer": [
      {"mark": {"type": "rule", "color": "#333", "strokeWidth": 1},
       "encoding": {"x": {"field": "x1", "type": "quantitative", "scale": {"domain": [0.4, 2.6], "range": [422, 722], "nice": false, "zero": false}}, "x2": {"field": "x2"}, "y": {"field": "y", "type": "quantitative", "scale": {"domain": [3.875, 11.17], "nice": false, "zero": false}}}},
      {"mark": {"type": "text", "fontSize": 10, "font": "Liberation Serif", "color": "#222"},
       "encoding": {"x": {"field": "xm", "type": "quantitative", "scale": {"domain": [0.4, 2.6], "range": [422, 722], "nice": false, "zero": false}}, "y": {"field": "ty", "type": "quantitative", "scale": {"domain": [3.875, 11.17], "nice": false, "zero": false}}, "text": {"field": "label", "type": "nominal"}}}
     ]}
   ]},

  {"width": 1, "height": 123, "data": {"values": [{}]}, "mark": {"type": "point", "size": 0, "strokeWidth": 0, "opacity": 0}},
  {"width": 1, "height": 1, "data": {"values": [{}]}, "mark": {"type": "point", "size": 0, "strokeWidth": 0, "opacity": 0}},

  {"width": 1, "height": 15, "data": {"values": [{}]}, "mark": {"type": "point", "size": 0, "strokeWidth": 0, "opacity": 0}, "title": {"text": "(g)", "orient": "bottom", "anchor": "start", "align": "center", "dx": 196, "offset": -15, "fontSize": 15}},
  {"width": 1, "height": 15, "data": {"values": [{}]}, "mark": {"type": "point", "size": 0, "strokeWidth": 0, "opacity": 0}, "title": {"text": "(h)", "orient": "bottom", "anchor": "start", "align": "center", "dx": 549, "offset": -15, "fontSize": 15}},

  {"width": 1, "height": 17, "data": {"values": [{}]}, "mark": {"type": "point", "size": 0, "strokeWidth": 0, "opacity": 0}},
  {"width": 1, "height": 1, "data": {"values": [{}]}, "mark": {"type": "point", "size": 0, "strokeWidth": 0, "opacity": 0}},

  {"width": 1, "height": 202,
   "layer": [
    {"data": {"values": [
      {"g":"Low","v":11,"left":1,"right":1},{"g":"Low","v":10.5,"left":0.988,"right":1.012},{"g":"Low","v":10,"left":0.981,"right":1.019},{"g":"Low","v":9.75,"left":0.969,"right":1.031},{"g":"Low","v":9.5,"left":0.954,"right":1.046},{"g":"Low","v":9.25,"left":0.938,"right":1.062},{"g":"Low","v":9,"left":0.938,"right":1.062},{"g":"Low","v":8.75,"left":0.907,"right":1.093},{"g":"Low","v":8.5,"left":0.869,"right":1.131},{"g":"Low","v":8.25,"left":0.846,"right":1.154},{"g":"Low","v":8,"left":0.83,"right":1.17},{"g":"Low","v":7.75,"left":0.846,"right":1.154},{"g":"Low","v":7.5,"left":0.861,"right":1.139},{"g":"Low","v":7.25,"left":0.799,"right":1.201},{"g":"Low","v":7,"left":0.676,"right":1.324},{"g":"Low","v":6.75,"left":0.768,"right":1.232},{"g":"Low","v":6.5,"left":0.822,"right":1.178},{"g":"Low","v":6.25,"left":0.799,"right":1.201},{"g":"Low","v":6,"left":0.761,"right":1.239},{"g":"Low","v":5.75,"left":0.83,"right":1.17},{"g":"Low","v":5.5,"left":0.884,"right":1.116},{"g":"Low","v":5.25,"left":0.907,"right":1.093},{"g":"Low","v":5,"left":0.907,"right":1.093},{"g":"Low","v":4.75,"left":0.923,"right":1.077},{"g":"Low","v":4.5,"left":0.946,"right":1.054},{"g":"Low","v":4.25,"left":0.969,"right":1.031},{"g":"Low","v":4.04,"left":1,"right":1},
      {"g":"High","v":10.68,"left":2,"right":2},{"g":"High","v":10.5,"left":1.992,"right":2.008},{"g":"High","v":10.25,"left":1.981,"right":2.019},{"g":"High","v":10,"left":1.977,"right":2.023},{"g":"High","v":9.75,"left":1.981,"right":2.019},{"g":"High","v":9.5,"left":1.969,"right":2.031},{"g":"High","v":9.25,"left":1.923,"right":2.077},{"g":"High","v":9,"left":1.861,"right":2.139},{"g":"High","v":8.75,"left":1.907,"right":2.093},{"g":"High","v":8.5,"left":1.923,"right":2.077},{"g":"High","v":8.25,"left":1.815,"right":2.185},{"g":"High","v":8,"left":1.506,"right":2.494},{"g":"High","v":7.75,"left":1.815,"right":2.185},{"g":"High","v":7.5,"left":1.9,"right":2.1},{"g":"High","v":7.25,"left":1.83,"right":2.17},{"g":"High","v":7,"left":1.614,"right":2.386},{"g":"High","v":6.75,"left":1.846,"right":2.154},{"g":"High","v":6.5,"left":1.884,"right":2.116},{"g":"High","v":6.25,"left":1.892,"right":2.108},{"g":"High","v":6,"left":1.846,"right":2.154},{"g":"High","v":5.75,"left":1.938,"right":2.062},{"g":"High","v":5.5,"left":1.985,"right":2.015},{"g":"High","v":5.25,"left":1.985,"right":2.015},{"g":"High","v":5,"left":1.981,"right":2.019},{"g":"High","v":4.75,"left":1.988,"right":2.012},{"g":"High","v":4.35,"left":2,"right":2}
     ]},
     "mark": {"type": "area", "orient": "horizontal", "interpolate": "monotone", "stroke": "black", "strokeWidth": 1, "opacity": 1},
     "encoding": {
      "y": {"field": "v", "type": "quantitative", "scale": {"domain": [3.73, 11.26], "nice": false, "zero": false}, "axis": {"values": [4, 6, 8, 10], "title": "ips_ctla4_neg_pd1_pos", "offset": -86, "labelPadding": 6, "titlePadding": 5}},
      "x": {"field": "left", "type": "quantitative", "stack": null, "scale": {"domain": [0.4, 2.6], "range": [86, 371], "nice": false, "zero": false}, "axis": {"values": [1, 2], "labelExpr": "datum.value == 1 ? 'Low' : 'High'", "title": "ICGscore", "labelFontSize": 11, "labelPadding": 5, "titlePadding": 6, "labelFlush": false}},
      "x2": {"field": "right"},
      "color": {"field": "g", "type": "nominal", "scale": {"domain": ["Low", "High"], "range": ["#0A2472", "#DB0707"]},
        "legend": {"title": "ICGscore", "orient": "none", "legendX": 86, "legendY": 254, "symbolType": "square", "symbolSize": 169, "symbolStrokeColor": "black", "symbolStrokeWidth": 1, "symbolOpacity": 1, "labelOffset": 10, "rowPadding": 7, "titlePadding": 7}}
     }},
    {"data": {"values": [{"g":"Low","pos":1,"q1":6,"med":7,"q3":8,"lo":5,"hi":10},{"g":"High","pos":2,"q1":7,"med":8,"q3":8,"lo":6,"hi":9}]},
     "layer": [
      {"mark": {"type": "rule", "color": "black", "strokeWidth": 2},
       "encoding": {"x": {"field": "pos", "type": "quantitative", "scale": {"domain": [0.4, 2.6], "range": [86, 371], "nice": false, "zero": false}}, "y": {"field": "lo", "type": "quantitative", "scale": {"domain": [3.73, 11.26], "nice": false, "zero": false}}, "y2": {"field": "hi"}}},
      {"mark": {"type": "bar", "size": 25, "color": "white", "stroke": "black", "strokeWidth": 1.5, "opacity": 1},
       "encoding": {"x": {"field": "pos", "type": "quantitative", "scale": {"domain": [0.4, 2.6], "range": [86, 371], "nice": false, "zero": false}}, "y": {"field": "q1", "type": "quantitative", "scale": {"domain": [3.73, 11.26], "nice": false, "zero": false}}, "y2": {"field": "q3"}}},
      {"mark": {"type": "tick", "orient": "horizontal", "size": 25, "thickness": 1.5, "color": "black", "opacity": 1},
       "encoding": {"x": {"field": "pos", "type": "quantitative", "scale": {"domain": [0.4, 2.6], "range": [86, 371], "nice": false, "zero": false}}, "y": {"field": "med", "type": "quantitative", "scale": {"domain": [3.73, 11.26], "nice": false, "zero": false}}}}
     ]},
    {"data": {"values": [{"pos": 2, "v": 10}, {"pos": 2, "v": 5}]},
     "mark": {"type": "circle", "size": 20, "color": "black", "opacity": 1},
     "encoding": {"x": {"field": "pos", "type": "quantitative", "scale": {"domain": [0.4, 2.6], "range": [86, 371], "nice": false, "zero": false}}, "y": {"field": "v", "type": "quantitative", "scale": {"domain": [3.73, 11.26], "nice": false, "zero": false}}}},
    {"data": {"values": [{"x1": 1, "x2": 2, "xm": 1.5, "y": 10.27, "ty": 10.65, "label": "1.5e−13"}]},
     "layer": [
      {"mark": {"type": "rule", "color": "#333", "strokeWidth": 1},
       "encoding": {"x": {"field": "x1", "type": "quantitative", "scale": {"domain": [0.4, 2.6], "range": [86, 371], "nice": false, "zero": false}}, "x2": {"field": "x2"}, "y": {"field": "y", "type": "quantitative", "scale": {"domain": [3.73, 11.26], "nice": false, "zero": false}}}},
      {"mark": {"type": "text", "fontSize": 10, "font": "Liberation Serif", "color": "#222"},
       "encoding": {"x": {"field": "xm", "type": "quantitative", "scale": {"domain": [0.4, 2.6], "range": [86, 371], "nice": false, "zero": false}}, "y": {"field": "ty", "type": "quantitative", "scale": {"domain": [3.73, 11.26], "nice": false, "zero": false}}, "text": {"field": "label", "type": "nominal"}}}
     ]}
   ]},
  {"width": 1, "height": 204,
   "layer": [
    {"data": {"values": [
      {"g":"Low","v":10.67,"left":1,"right":1},{"g":"Low","v":10.5,"left":0.988,"right":1.012},{"g":"Low","v":10.25,"left":0.985,"right":1.015},{"g":"Low","v":10,"left":0.981,"right":1.019},{"g":"Low","v":9.75,"left":0.985,"right":1.015},{"g":"Low","v":9.5,"left":0.977,"right":1.023},{"g":"Low","v":9.25,"left":0.923,"right":1.077},{"g":"Low","v":9,"left":0.861,"right":1.139},{"g":"Low","v":8.75,"left":0.923,"right":1.077},{"g":"Low","v":8.5,"left":0.946,"right":1.054},{"g":"Low","v":8.25,"left":0.845,"right":1.155},{"g":"Low","v":8,"left":0.605,"right":1.395},{"g":"Low","v":7.75,"left":0.83,"right":1.17},{"g":"Low","v":7.5,"left":0.899,"right":1.101},{"g":"Low","v":7.25,"left":0.814,"right":1.186},{"g":"Low","v":7,"left":0.574,"right":1.426},{"g":"Low","v":6.75,"left":0.845,"right":1.155},{"g":"Low","v":6.5,"left":0.938,"right":1.062},{"g":"Low","v":6.25,"left":0.907,"right":1.093},{"g":"Low","v":6,"left":0.814,"right":1.186},{"g":"Low","v":5.75,"left":0.923,"right":1.077},{"g":"Low","v":5.5,"left":0.977,"right":1.023},{"g":"Low","v":5.25,"left":0.985,"right":1.015},{"g":"Low","v":5,"left":0.985,"right":1.015},{"g":"Low","v":4.75,"left":0.988,"right":1.012},{"g":"Low","v":4.34,"left":1,"right":1},
      {"g":"High","v":10.67,"left":2,"right":2},{"g":"High","v":10.5,"left":1.985,"right":2.015},{"g":"High","v":10.25,"left":1.977,"right":2.023},{"g":"High","v":10,"left":1.977,"right":2.023},{"g":"High","v":9.75,"left":1.981,"right":2.019},{"g":"High","v":9.5,"left":1.969,"right":2.031},{"g":"High","v":9.25,"left":1.899,"right":2.101},{"g":"High","v":9,"left":1.806,"right":2.194},{"g":"High","v":8.75,"left":1.907,"right":2.093},{"g":"High","v":8.5,"left":1.946,"right":2.054},{"g":"High","v":8.25,"left":1.806,"right":2.194},{"g":"High","v":8,"left":1.497,"right":2.503},{"g":"High","v":7.75,"left":1.806,"right":2.194},{"g":"High","v":7.5,"left":1.899,"right":2.101},{"g":"High","v":7.25,"left":1.845,"right":2.155},{"g":"High","v":7,"left":1.644,"right":2.356},{"g":"High","v":6.75,"left":1.868,"right":2.132},{"g":"High","v":6.5,"left":1.946,"right":2.054},{"g":"High","v":6.25,"left":1.954,"right":2.046},{"g":"High","v":6,"left":1.923,"right":2.077},{"g":"High","v":5.75,"left":1.954,"right":2.046},{"g":"High","v":5.5,"left":1.977,"right":2.023},{"g":"High","v":5.25,"left":1.985,"right":2.015},{"g":"High","v":5,"left":1.985,"right":2.015},{"g":"High","v":4.75,"left":1.988,"right":2.012},{"g":"High","v":4.34,"left":2,"right":2}
     ]},
     "mark": {"type": "area", "orient": "horizontal", "interpolate": "monotone", "stroke": "black", "strokeWidth": 1, "opacity": 1},
     "encoding": {
      "y": {"field": "v", "type": "quantitative", "scale": {"domain": [4.048, 11.03], "nice": false, "zero": false}, "axis": {"values": [6, 8, 10], "title": "ips_ctla4_pos_pd1_neg", "offset": -427, "labelPadding": 6, "titlePadding": 7}},
      "x": {"field": "left", "type": "quantitative", "stack": null, "scale": {"domain": [0.4, 2.6], "range": [427, 711], "nice": false, "zero": false}, "axis": {"values": [1, 2], "labelExpr": "datum.value == 1 ? 'Low' : 'High'", "title": "ICGscore", "labelFontSize": 11, "labelPadding": 5, "titlePadding": 6, "labelFlush": false}},
      "x2": {"field": "right"},
      "color": {"field": "g", "type": "nominal", "scale": {"domain": ["Low", "High"], "range": ["#0A2472", "#DB0707"]},
        "legend": {"title": "ICGscore", "orient": "none", "legendX": 428, "legendY": 254, "symbolType": "square", "symbolSize": 169, "symbolStrokeColor": "black", "symbolStrokeWidth": 1, "symbolOpacity": 1, "labelOffset": 10, "rowPadding": 7, "titlePadding": 7}}
     }},
    {"data": {"values": [{"g":"Low","pos":1,"q1":7,"med":8,"q3":8,"lo":6,"hi":9},{"g":"High","pos":2,"q1":7,"med":8,"q3":8,"lo":6,"hi":9}]},
     "layer": [
      {"mark": {"type": "rule", "color": "black", "strokeWidth": 2},
       "encoding": {"x": {"field": "pos", "type": "quantitative", "scale": {"domain": [0.4, 2.6], "range": [427, 711], "nice": false, "zero": false}}, "y": {"field": "lo", "type": "quantitative", "scale": {"domain": [4.048, 11.03], "nice": false, "zero": false}}, "y2": {"field": "hi"}}},
      {"mark": {"type": "bar", "size": 25, "color": "white", "stroke": "black", "strokeWidth": 1.5, "opacity": 1},
       "encoding": {"x": {"field": "pos", "type": "quantitative", "scale": {"domain": [0.4, 2.6], "range": [427, 711], "nice": false, "zero": false}}, "y": {"field": "q1", "type": "quantitative", "scale": {"domain": [4.048, 11.03], "nice": false, "zero": false}}, "y2": {"field": "q3"}}},
      {"mark": {"type": "tick", "orient": "horizontal", "size": 25, "thickness": 1.5, "color": "black", "opacity": 1},
       "encoding": {"x": {"field": "pos", "type": "quantitative", "scale": {"domain": [0.4, 2.6], "range": [427, 711], "nice": false, "zero": false}}, "y": {"field": "med", "type": "quantitative", "scale": {"domain": [4.048, 11.03], "nice": false, "zero": false}}}}
     ]},
    {"data": {"values": [{"pos": 1, "v": 10}, {"pos": 1, "v": 5}, {"pos": 2, "v": 10}, {"pos": 2, "v": 5}]},
     "mark": {"type": "circle", "size": 20, "color": "black", "opacity": 1},
     "encoding": {"x": {"field": "pos", "type": "quantitative", "scale": {"domain": [0.4, 2.6], "range": [427, 711], "nice": false, "zero": false}}, "y": {"field": "v", "type": "quantitative", "scale": {"domain": [4.048, 11.03], "nice": false, "zero": false}}}},
    {"data": {"values": [{"x1": 1, "x2": 2, "xm": 1.5, "y": 10.24, "ty": 10.59, "label": "4.7e−05"}]},
     "layer": [
      {"mark": {"type": "rule", "color": "#333", "strokeWidth": 1},
       "encoding": {"x": {"field": "x1", "type": "quantitative", "scale": {"domain": [0.4, 2.6], "range": [427, 711], "nice": false, "zero": false}}, "x2": {"field": "x2"}, "y": {"field": "y", "type": "quantitative", "scale": {"domain": [4.048, 11.03], "nice": false, "zero": false}}}},
      {"mark": {"type": "text", "fontSize": 10, "font": "Liberation Serif", "color": "#222"},
       "encoding": {"x": {"field": "xm", "type": "quantitative", "scale": {"domain": [0.4, 2.6], "range": [427, 711], "nice": false, "zero": false}}, "y": {"field": "ty", "type": "quantitative", "scale": {"domain": [4.048, 11.03], "nice": false, "zero": false}}, "text": {"field": "label", "type": "nominal"}}}
     ]}
   ]},

  {"width": 1, "height": 119, "data": {"values": [{}]}, "mark": {"type": "point", "size": 0, "strokeWidth": 0, "opacity": 0}},
  {"width": 1, "height": 1, "data": {"values": [{}]}, "mark": {"type": "point", "size": 0, "strokeWidth": 0, "opacity": 0}},

  {"width": 1, "height": 15, "data": {"values": [{}]}, "mark": {"type": "point", "size": 0, "strokeWidth": 0, "opacity": 0}, "title": {"text": "(i)", "orient": "bottom", "anchor": "start", "align": "center", "dx": 206, "offset": -15, "fontSize": 15}},
  {"width": 1, "height": 15, "data": {"values": [{}]}, "mark": {"type": "point", "size": 0, "strokeWidth": 0, "opacity": 0}, "title": {"text": "(j)", "orient": "bottom", "anchor": "start", "align": "center", "dx": 547, "offset": -15, "fontSize": 15}},

  {"width": 1, "height": 22, "data": {"values": [{}]}, "mark": {"type": "point", "size": 0, "strokeWidth": 0, "opacity": 0}},
  {"width": 1, "height": 1, "data": {"values": [{}]}, "mark": {"type": "point", "size": 0, "strokeWidth": 0, "opacity": 0}},

  {"width": 1, "height": 1, "data": {"values": [{}]}, "mark": {"type": "point", "size": 0, "strokeWidth": 0, "opacity": 0}},
  {"width": 759, "height": 112,
   "layer": [
    {"data": {"values": [
      {"g":"Low","v":10.73,"left":1,"right":1},{"g":"Low","v":10.5,"left":0.989,"right":1.011},{"g":"Low","v":10.25,"left":0.985,"right":1.015},{"g":"Low","v":10,"left":0.981,"right":1.019},{"g":"Low","v":9.75,"left":0.985,"right":1.015},{"g":"Low","v":9.5,"left":0.985,"right":1.015},{"g":"Low","v":9.25,"left":0.973,"right":1.027},{"g":"Low","v":9,"left":0.962,"right":1.038},{"g":"Low","v":8.75,"left":0.977,"right":1.023},{"g":"Low","v":8.5,"left":0.981,"right":1.019},{"g":"Low","v":8.25,"left":0.924,"right":1.076},{"g":"Low","v":8,"left":0.802,"right":1.198},{"g":"Low","v":7.75,"left":0.908,"right":1.092},{"g":"Low","v":7.5,"left":0.939,"right":1.061},{"g":"Low","v":7.25,"left":0.809,"right":1.191},{"g":"Low","v":7,"left":0.504,"right":1.496},{"g":"Low","v":6.75,"left":0.786,"right":1.214},{"g":"Low","v":6.5,"left":0.878,"right":1.122},{"g":"Low","v":6.25,"left":0.832,"right":1.168},{"g":"Low","v":6,"left":0.656,"right":1.344},{"g":"Low","v":5.75,"left":0.863,"right":1.137},{"g":"Low","v":5.5,"left":0.931,"right":1.069},{"g":"Low","v":5.25,"left":0.908,"right":1.092},{"g":"Low","v":5,"left":0.863,"right":1.137},{"g":"Low","v":4.75,"left":0.939,"right":1.061},{"g":"Low","v":4.5,"left":0.977,"right":1.023},{"g":"Low","v":4.2,"left":1,"right":1},
      {"g":"High","v":10.73,"left":2,"right":2},{"g":"High","v":10.5,"left":1.985,"right":2.015},{"g":"High","v":10.25,"left":1.977,"right":2.023},{"g":"High","v":10,"left":1.962,"right":2.038},{"g":"High","v":9.75,"left":1.977,"right":2.023},{"g":"High","v":9.5,"left":1.977,"right":2.023},{"g":"High","v":9.25,"left":1.908,"right":2.092},{"g":"High","v":9,"left":1.802,"right":2.198},{"g":"High","v":8.75,"left":1.901,"right":2.099},{"g":"High","v":8.5,"left":1.924,"right":2.076},{"g":"High","v":8.25,"left":1.809,"right":2.191},{"g":"High","v":8,"left":1.519,"right":2.481},{"g":"High","v":7.75,"left":1.809,"right":2.191},{"g":"High","v":7.5,"left":1.885,"right":2.115},{"g":"High","v":7.25,"left":1.809,"right":2.191},{"g":"High","v":7,"left":1.527,"right":2.473},{"g":"High","v":6.75,"left":1.809,"right":2.191},{"g":"High","v":6.5,"left":1.908,"right":2.092},{"g":"High","v":6.25,"left":1.924,"right":2.076},{"g":"High","v":6,"left":1.863,"right":2.137},{"g":"High","v":5.75,"left":1.939,"right":2.061},{"g":"High","v":5.5,"left":1.977,"right":2.023},{"g":"High","v":5,"left":1.985,"right":2.015},{"g":"High","v":4.5,"left":1.992,"right":2.008},{"g":"High","v":4.2,"left":2,"right":2}
     ]},
     "mark": {"type": "area", "orient": "horizontal", "interpolate": "monotone", "stroke": "black", "strokeWidth": 1, "opacity": 1, "clip": true},
     "encoding": {
      "y": {"field": "v", "type": "quantitative", "scale": {"domain": [6.608, 11], "nice": false, "zero": false}, "axis": {"values": [7, 9, 11], "title": "ips_ctla4_pos_pd1_pos", "offset": -255, "labelPadding": 6, "titlePadding": 4}},
      "x": {"field": "left", "type": "quantitative", "stack": null, "scale": {"domain": [0.4, 2.6], "range": [255, 543], "nice": false, "zero": false}, "axis": null},
      "x2": {"field": "right"},
      "color": {"field": "g", "type": "nominal", "scale": {"domain": ["Low", "High"], "range": ["#0A2472", "#DB0707"]}, "legend": null}
     }},
    {"data": {"values": [{"g":"Low","pos":1,"q1":6,"med":7,"q3":7,"lo":5,"hi":8},{"g":"High","pos":2,"q1":7,"med":8,"q3":8,"lo":6,"hi":9}]},
     "layer": [
      {"mark": {"type": "rule", "color": "black", "strokeWidth": 2, "clip": true},
       "encoding": {"x": {"field": "pos", "type": "quantitative", "scale": {"domain": [0.4, 2.6], "range": [255, 543], "nice": false, "zero": false}, "axis": null}, "y": {"field": "lo", "type": "quantitative", "scale": {"domain": [6.608, 11], "nice": false, "zero": false}}, "y2": {"field": "hi"}}},
      {"mark": {"type": "bar", "size": 25, "color": "white", "stroke": "black", "strokeWidth": 1.5, "opacity": 1, "clip": true},
       "encoding": {"x": {"field": "pos", "type": "quantitative", "scale": {"domain": [0.4, 2.6], "range": [255, 543], "nice": false, "zero": false}, "axis": null}, "y": {"field": "q1", "type": "quantitative", "scale": {"domain": [6.608, 11], "nice": false, "zero": false}}, "y2": {"field": "q3"}}},
      {"mark": {"type": "tick", "orient": "horizontal", "size": 25, "thickness": 1.5, "color": "black", "opacity": 1, "clip": true},
       "encoding": {"x": {"field": "pos", "type": "quantitative", "scale": {"domain": [0.4, 2.6], "range": [255, 543], "nice": false, "zero": false}, "axis": null}, "y": {"field": "med", "type": "quantitative", "scale": {"domain": [6.608, 11], "nice": false, "zero": false}}}}
     ]},
    {"data": {"values": [{"pos": 1, "v": 10}, {"pos": 1, "v": 9}, {"pos": 2, "v": 10}]},
     "mark": {"type": "circle", "size": 20, "color": "black", "opacity": 1},
     "encoding": {"x": {"field": "pos", "type": "quantitative", "scale": {"domain": [0.4, 2.6], "range": [255, 543], "nice": false, "zero": false}, "axis": null}, "y": {"field": "v", "type": "quantitative", "scale": {"domain": [6.608, 11], "nice": false, "zero": false}}}},
    {"data": {"values": [{"x1": 1, "x2": 2, "xm": 1.5, "y": 10.31, "ty": 10.79, "label": "p < 2.22e−16"}]},
     "layer": [
      {"mark": {"type": "rule", "color": "#333", "strokeWidth": 1},
       "encoding": {"x": {"field": "x1", "type": "quantitative", "scale": {"domain": [0.4, 2.6], "range": [255, 543], "nice": false, "zero": false}, "axis": null}, "x2": {"field": "x2"}, "y": {"field": "y", "type": "quantitative", "scale": {"domain": [6.608, 11], "nice": false, "zero": false}}}},
      {"mark": {"type": "text", "fontSize": 10, "font": "Liberation Serif", "color": "#222"},
       "encoding": {"x": {"field": "xm", "type": "quantitative", "scale": {"domain": [0.4, 2.6], "range": [255, 543], "nice": false, "zero": false}, "axis": null}, "y": {"field": "ty", "type": "quantitative", "scale": {"domain": [6.608, 11], "nice": false, "zero": false}}, "text": {"field": "label", "type": "nominal"}}}
     ]}
   ]}
]
}
